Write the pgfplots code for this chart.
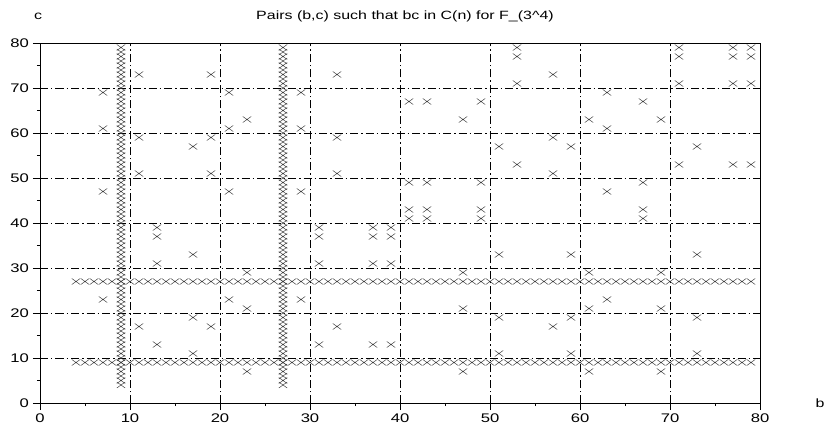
\documentclass[border=0pt]{standalone}
\usepackage{fontspec}
\setmainfont{Liberation Sans}[FakeStretch=1.33]
\usepackage{pgfplots}
\pgfplotsset{compat=1.18}
\begin{document}
\fontsize{12}{14}\selectfont
\begin{tikzpicture}
\begin{axis}[
  name=ax, scale only axis, width=720pt, height=360pt,
  xmin=0, xmax=80, ymin=0, ymax=80,
  xtick={0,10,...,80}, ytick={0,10,...,80},
  minor tick num=1,
  tick align=outside, xtick pos=bottom, ytick pos=left,
  major tick length=7pt, minor tick length=3pt,
  tick style={black, line width=0.7pt},
  tick label style={font=\fontsize{12.5}{14}\selectfont},
  /pgf/number format/assume math mode=true,
  grid=major,
  grid style={black, line width=0.6pt, dash pattern=on 8pt off 3pt on 1.5pt off 3pt},
  axis line style={line width=0.8pt},
  clip=false]
% vertical strips b = 9 and b = 27
\addplot[only marks, mark=x, mark size=4.2pt, black!75, mark options={xscale=1.4, line width=0.5pt}] coordinates {
(9,4) (9,5) (9,6) (9,7) (9,8) (9,9) (9,10) (9,11) (9,12) (9,13) (9,14) (9,15) (9,16) (9,17) (9,18) (9,19) (9,20) (9,21) (9,22) (9,23) (9,24) (9,25) (9,26) (9,27) (9,28) (9,29) (9,30) (9,31) (9,32) (9,33) (9,34) (9,35) (9,36) (9,37) (9,38) (9,39) (9,40) (9,41) (9,42) (9,43) (9,44) (9,45) (9,46) (9,47) (9,48) (9,49) (9,50) (9,51) (9,52) (9,53) (9,54) (9,55) (9,56) (9,57) (9,58) (9,59) (9,60) (9,61) (9,62) (9,63) (9,64) (9,65) (9,66) (9,67) (9,68) (9,69) (9,70) (9,71) (9,72) (9,73) (9,74) (9,75) (9,76) (9,77) (9,78) (9,79)
(27,4) (27,5) (27,6) (27,7) (27,8) (27,9) (27,10) (27,11) (27,12) (27,13) (27,14) (27,15) (27,16) (27,17) (27,18) (27,19) (27,20) (27,21) (27,22) (27,23) (27,24) (27,25) (27,26) (27,27) (27,28) (27,29) (27,30) (27,31) (27,32) (27,33) (27,34) (27,35) (27,36) (27,37) (27,38) (27,39) (27,40) (27,41) (27,42) (27,43) (27,44) (27,45) (27,46) (27,47) (27,48) (27,49) (27,50) (27,51) (27,52) (27,53) (27,54) (27,55) (27,56) (27,57) (27,58) (27,59) (27,60) (27,61) (27,62) (27,63) (27,64) (27,65) (27,66) (27,67) (27,68) (27,69) (27,70) (27,71) (27,72) (27,73) (27,74) (27,75) (27,76) (27,77) (27,78) (27,79)
};
% horizontal strips c = 9 and c = 27
\addplot[only marks, mark=x, mark size=4.2pt, black!75, mark options={xscale=1.4, line width=0.5pt}] coordinates {
(4,9) (5,9) (6,9) (7,9) (8,9) (9,9) (10,9) (11,9) (12,9) (13,9) (14,9) (15,9) (16,9) (17,9) (18,9) (19,9) (20,9) (21,9) (22,9) (23,9) (24,9) (25,9) (26,9) (27,9) (28,9) (29,9) (30,9) (31,9) (32,9) (33,9) (34,9) (35,9) (36,9) (37,9) (38,9) (39,9) (40,9) (41,9) (42,9) (43,9) (44,9) (45,9) (46,9) (47,9) (48,9) (49,9) (50,9) (51,9) (52,9) (53,9) (54,9) (55,9) (56,9) (57,9) (58,9) (59,9) (60,9) (61,9) (62,9) (63,9) (64,9) (65,9) (66,9) (67,9) (68,9) (69,9) (70,9) (71,9) (72,9) (73,9) (74,9) (75,9) (76,9) (77,9) (78,9) (79,9)
(4,27) (5,27) (6,27) (7,27) (8,27) (9,27) (10,27) (11,27) (12,27) (13,27) (14,27) (15,27) (16,27) (17,27) (18,27) (19,27) (20,27) (21,27) (22,27) (23,27) (24,27) (25,27) (26,27) (27,27) (28,27) (29,27) (30,27) (31,27) (32,27) (33,27) (34,27) (35,27) (36,27) (37,27) (38,27) (39,27) (40,27) (41,27) (42,27) (43,27) (44,27) (45,27) (46,27) (47,27) (48,27) (49,27) (50,27) (51,27) (52,27) (53,27) (54,27) (55,27) (56,27) (57,27) (58,27) (59,27) (60,27) (61,27) (62,27) (63,27) (64,27) (65,27) (66,27) (67,27) (68,27) (69,27) (70,27) (71,27) (72,27) (73,27) (74,27) (75,27) (76,27) (77,27) (78,27) (79,27)
};
% the other pairs
\addplot[only marks, mark=x, mark size=4.2pt, black!75, mark options={xscale=1.4, line width=0.5pt}] coordinates {
(7,69) (7,61) (7,47) (7,23)
(11,73) (11,59) (11,51) (11,17)
(13,39) (13,37) (13,31) (13,13)
(17,57) (17,33) (17,19) (17,11)
(19,73) (19,59) (19,51) (19,17)
(21,69) (21,61) (21,47) (21,23)
(23,63) (23,29) (23,21) (23,7)
(29,69) (29,61) (29,47) (29,23)
(31,39) (31,37) (31,31) (31,13)
(33,73) (33,59) (33,51) (33,17)
(37,39) (37,37) (37,31) (37,13)
(39,39) (39,37) (39,31) (39,13)
(41,67) (41,49) (41,43) (41,41)
(43,67) (43,49) (43,43) (43,41)
(47,63) (47,29) (47,21) (47,7)
(49,67) (49,49) (49,43) (49,41)
(51,57) (51,33) (51,19) (51,11)
(53,79) (53,77) (53,71) (53,53)
(57,73) (57,59) (57,51) (57,17)
(59,57) (59,33) (59,19) (59,11)
(61,63) (61,29) (61,21) (61,7)
(63,69) (63,61) (63,47) (63,23)
(67,67) (67,49) (67,43) (67,41)
(69,63) (69,29) (69,21) (69,7)
(71,79) (71,77) (71,71) (71,53)
(73,57) (73,33) (73,19) (73,11)
(77,79) (77,77) (77,71) (77,53)
(79,79) (79,77) (79,71) (79,53)
};
\end{axis}
\node[font=\fontsize{12}{14}\selectfont] at (365pt,387pt) {Pairs (b,c) such that bc in C(n) for F\_(3\textasciicircum 4)};
\node[font=\fontsize{12}{14}\selectfont] at (-2pt,387pt) {c};
\node[font=\fontsize{12}{14}\selectfont] at (780pt,0pt) {b};
\pgfresetboundingbox
\path[use as bounding box] (-40pt,-25pt) rectangle (786pt,403pt);
\end{tikzpicture}
\end{document}
